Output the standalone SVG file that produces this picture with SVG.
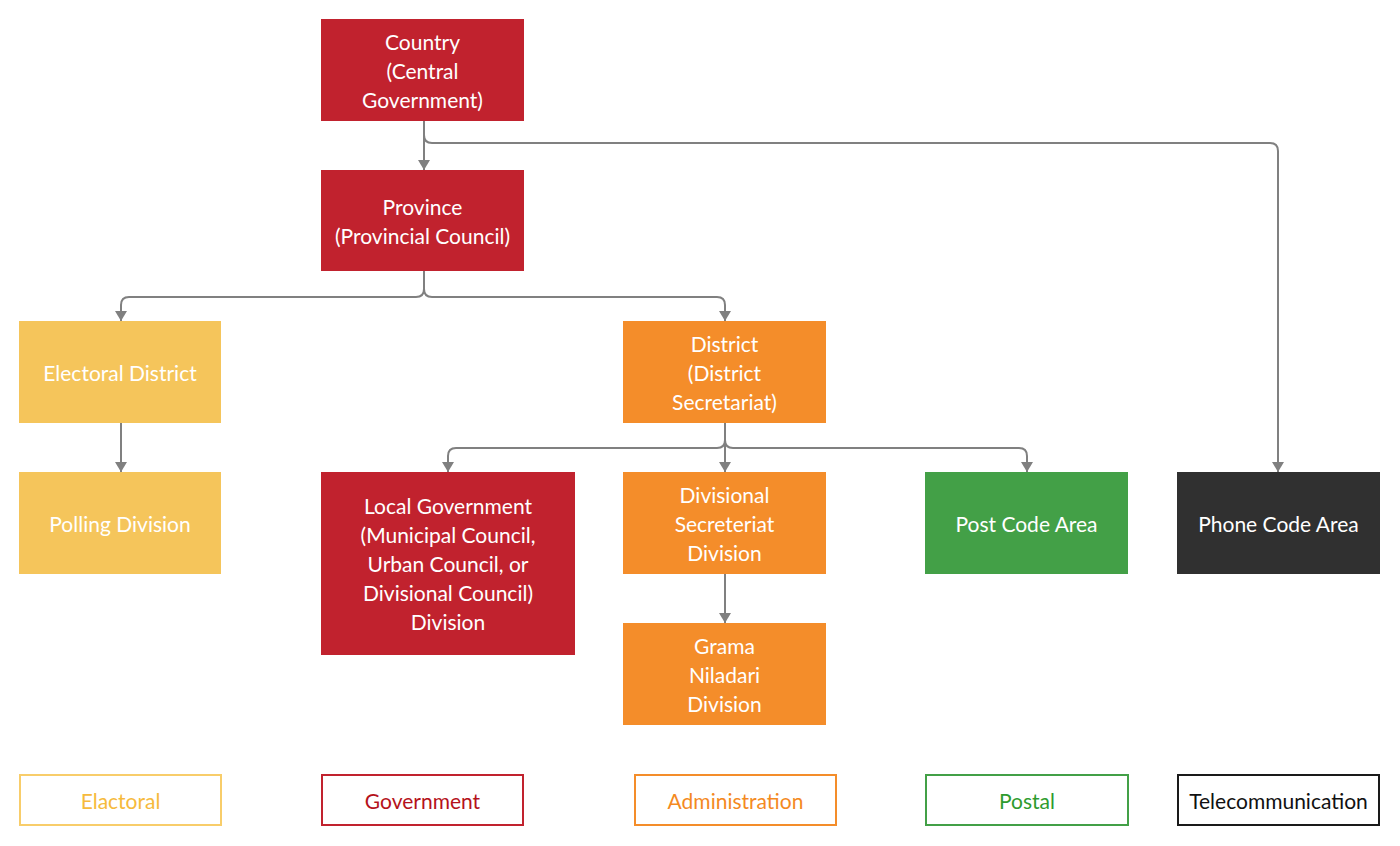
<svg xmlns="http://www.w3.org/2000/svg" width="1400" height="846" viewBox="0 0 1400 846">
<defs>
<marker id="arr" viewBox="0 0 10 12" refX="10" refY="6" markerWidth="10" markerHeight="12" markerUnits="userSpaceOnUse" orient="auto">
<path d="M0,0 L10,6 L0,12 Z" fill="#808080"/>
</marker>
<style>
text{font-family:Lato,"Noto Sans","Liberation Sans",sans-serif;font-size:21px;text-anchor:middle;dominant-baseline:central}
.n text{fill:#fff}
.red rect{fill:#C1222E}
.yel rect{fill:#F5C55B}
.org rect{fill:#F48D2A}
.grn rect{fill:#43A047}
.blk rect{fill:#303030}
.lg rect{fill:#fff;stroke-width:2}
.conn path{fill:none;stroke:#808080;stroke-width:2;marker-end:url(#arr)}
</style>
</defs>
<rect width="1400" height="846" fill="#fff"/>
<g class="conn" id="connectors">
<path d="M424,121 V170"/>
<path d="M424,121 V135 Q424,143 432,143 H1270 Q1278,143 1278,151 V472"/>
<path d="M424,271 V289 Q424,297 416,297 H129 Q121,297 121,305 V321"/>
<path d="M424,271 V289 Q424,297 432,297 H717 Q725,297 725,305 V321"/>
<path d="M121,423 V472"/>
<path d="M725,423 V440 Q725,448 717,448 H456 Q448,448 448,456 V472"/>
<path d="M725,423 V472"/>
<path d="M725,423 V440 Q725,448 733,448 H1019 Q1027,448 1027,456 V472"/>
<path d="M725,574 V623"/>
</g>
<g id="country" class="n red"><rect x="321" y="19" width="203" height="102"/><text x="422.5" y="41">Country</text><text x="422.5" y="70">(Central</text><text x="422.5" y="99">Government)</text></g>
<g id="province" class="n red"><rect x="321" y="170" width="203" height="101"/><text x="422.5" y="206">Province</text><text x="422.5" y="235">(Provincial Council)</text></g>
<g id="electoral-district" class="n yel"><rect x="19" y="321" width="202" height="102"/><text x="120" y="372">Electoral District</text></g>
<g id="district" class="n org"><rect x="623" y="321" width="203" height="102"/><text x="724.5" y="343">District</text><text x="724.5" y="372">(District</text><text x="724.5" y="401">Secretariat)</text></g>
<g id="polling-division" class="n yel"><rect x="19" y="472" width="202" height="102"/><text x="120" y="523">Polling Division</text></g>
<g id="local-government" class="n red"><rect x="321" y="472" width="254" height="183"/><text x="448" y="505">Local Government</text><text x="448" y="534">(Municipal Council,</text><text x="448" y="563">Urban Council, or</text><text x="448" y="592">Divisional Council)</text><text x="448" y="621">Division</text></g>
<g id="divisional-secretariat" class="n org"><rect x="623" y="472" width="203" height="102"/><text x="724.5" y="494">Divisional</text><text x="724.5" y="523">Secreteriat</text><text x="724.5" y="552">Division</text></g>
<g id="post-code-area" class="n grn"><rect x="925" y="472" width="203" height="102"/><text x="1026.5" y="523">Post Code Area</text></g>
<g id="phone-code-area" class="n blk"><rect x="1177" y="472" width="203" height="102"/><text x="1278.5" y="523">Phone Code Area</text></g>
<g id="grama-niladari" class="n org"><rect x="623" y="623" width="203" height="102"/><text x="724.5" y="645">Grama</text><text x="724.5" y="674">Niladari</text><text x="724.5" y="703">Division</text></g>
<g id="legend-electoral" class="lg"><rect x="20" y="775" width="201" height="50" stroke="#F8CD6A"/><text x="120.5" y="800" fill="#F6BA3C">Elactoral</text></g>
<g id="legend-government" class="lg"><rect x="322" y="775" width="201" height="50" stroke="#C1222E"/><text x="422.5" y="800" fill="#B5121B">Government</text></g>
<g id="legend-administration" class="lg"><rect x="635" y="775" width="201" height="50" stroke="#F48D2A"/><text x="735.5" y="800" fill="#F48A1F">Administration</text></g>
<g id="legend-postal" class="lg"><rect x="926" y="775" width="202" height="50" stroke="#43A047"/><text x="1027" y="800" fill="#2E9B2E">Postal</text></g>
<g id="legend-telecom" class="lg"><rect x="1178" y="775" width="201" height="50" stroke="#1a1a1a"/><text x="1278.5" y="800" fill="#111">Telecommunication</text></g>
</svg>
